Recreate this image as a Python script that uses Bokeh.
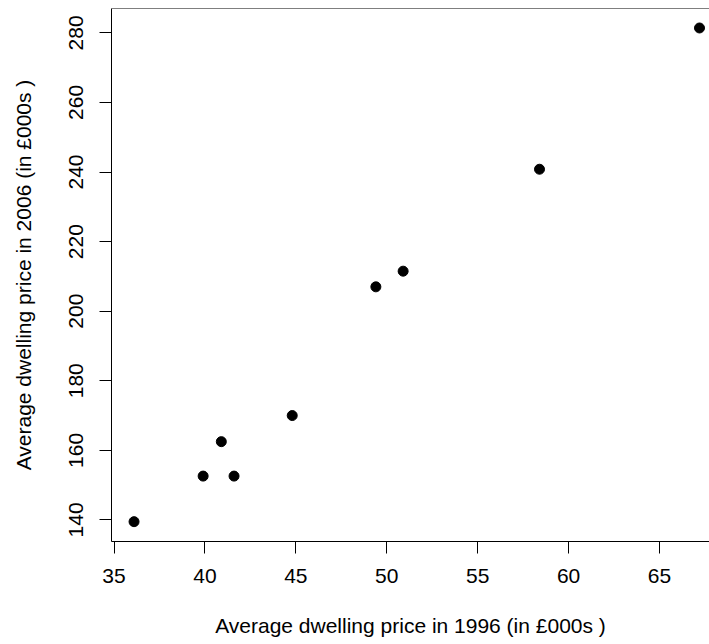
from bokeh.plotting import figure
from bokeh.models import FixedTicker, Span, Range1d
from bokeh.embed import file_html
from bokeh.resources import INLINE

# Data (average dwelling prices, £000s)
price_1996 = [36.1, 39.9, 40.9, 41.6, 44.8, 49.4, 50.9, 58.4, 67.2]
price_2006 = [139.5, 152.6, 162.5, 152.6, 170.0, 207.0, 211.5, 240.8, 281.4]
x_ticks = [35, 40, 45, 50, 55, 60, 65]
y_ticks = [140, 160, 180, 200, 220, 240, 260, 280]
x_title = "Average dwelling price in 1996 (in £000s )"
y_title = "Average dwelling price in 2006 (in £000s )"

FONT = "Liberation Sans"
FS = "21px"

p = figure(width=709, height=644, output_backend="svg", toolbar_location=None,
           x_range=Range1d(34.86, 67.75), y_range=Range1d(133.8, 287.0),
           min_border_left=111, min_border_right=0, min_border_top=8, min_border_bottom=103)
p.outline_line_color = None
p.xgrid.visible = False
p.ygrid.visible = False
p.background_fill_color = "white"
p.border_fill_color = "white"

p.scatter(price_1996, price_2006, size=10, fill_color="black", line_color="black")

for ax, ticks in ((p.xaxis[0], x_ticks), (p.yaxis[0], y_ticks)):
    ax.ticker = FixedTicker(ticks=ticks)
    ax.minor_tick_line_color = None
    ax.major_tick_in = 0
    ax.major_tick_out = 12
    ax.axis_line_color = "black"
    ax.major_tick_line_color = "black"
    ax.major_label_text_font = FONT
    ax.major_label_text_font_size = FS
    ax.major_label_text_color = "black"
    ax.axis_label_text_font = FONT
    ax.axis_label_text_font_size = FS
    ax.axis_label_text_font_style = "normal"
    ax.axis_label_text_color = "black"

p.xaxis.axis_label = x_title
p.yaxis.axis_label = y_title
p.xaxis.major_label_standoff = 15
p.xaxis.axis_label_standoff = 28
p.yaxis.major_label_orientation = "vertical"
p.yaxis.major_label_standoff = 16
p.yaxis.axis_label_standoff = 32

p.add_layout(Span(location=287.0, dimension="width", line_color="black", line_width=1))

open("out.html", "w").write(file_html(p, INLINE))
